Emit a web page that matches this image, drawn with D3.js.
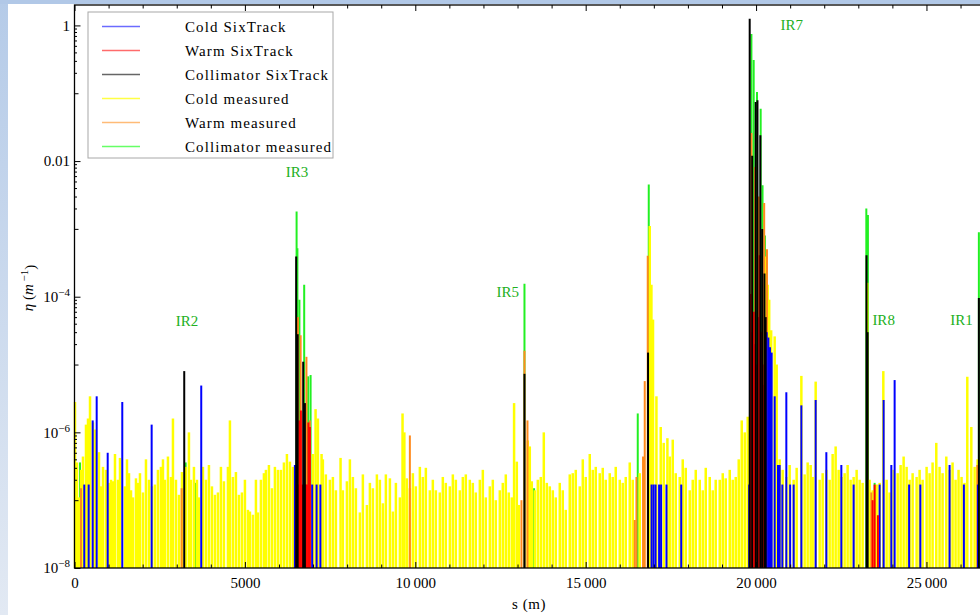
<!DOCTYPE html>
<html><head><meta charset="utf-8">
<script src="https://cdn.jsdelivr.net/npm/d3@7"></script>
<style>body{margin:0;background:#fff}svg{display:block}</style>
</head><body>
<svg id="c" width="980" height="615"></svg>
<script>
// ---------- DATA: [s (m), eta (1/m)] ----------
const coldMeasured = [
[15,2.8e-6],[73,3.6e-7],[132,1.1e-7],[191,2.8e-7],[249,4.4e-7],[337,1.3e-6],[396,1.6e-6],[455,3.4e-6],[543,1.4e-6],[601,1.1e-6],
[719,5.1e-7],[777,1.6e-7],[836,3.1e-7],[924,2.8e-7],[1012,1.8e-7],[1071,2.0e-7],[1129,1.9e-7],[1188,4.8e-7],[1276,2.0e-7],[1335,4.2e-7],
[1481,1.6e-7],[1540,4.0e-7],[1599,2.5e-7],[1658,1.4e-7],[1716,1.1e-7],[1804,2.1e-7],[1862,1.8e-7],[1921,2.5e-7],[2009,1.3e-7],[2097,4.0e-7],
[2185,2.0e-7],[2273,1.6e-7],[2361,1.7e-7],[2449,2.8e-7],[2537,3.1e-7],[2596,4.0e-7],[2654,2.0e-7],[2742,4.4e-7],[2830,2.2e-7],[2889,1.6e-6],
[2977,2.0e-7],[3065,1.2e-7],[3153,2.6e-7],[3270,3.1e-7],[3358,1.0e-6],[3417,2.0e-7],[3505,3.1e-7],[3593,2.0e-7],[3652,1.1e-7],[3769,3.1e-7],
[3857,2.0e-7],[3945,3.3e-7],[4033,1.6e-7],[4121,1.2e-7],[4209,1.3e-7],[4297,3.1e-7],[4385,1.9e-7],[4502,3.1e-7],[4561,1.5e-6],[4649,2.2e-7],
[4737,2.6e-7],[4825,1.2e-7],[4913,1.3e-7],[5001,2.0e-7],[5089,7.2e-8],[5148,6.8e-8],[5236,6.1e-8],[5324,2.0e-7],[5382,6.6e-8],[5470,2.0e-7],
[5558,2.5e-7],[5617,2.8e-7],[5705,3.3e-7],[5793,1.5e-7],[5881,3.1e-7],[5969,2.8e-7],[6057,2.8e-7],[6145,3.6e-7],[6233,4.8e-7],[6321,3.7e-7],
[6409,3.1e-7],[6995,4.8e-7],[7074,2.2e-6],[7142,1.6e-6],[7250,4.8e-7],[7288,4.0e-7],[7376,2.4e-7],[7494,2.0e-7],[7582,2.2e-7],[7670,1.4e-7],
[7807,4.2e-7],[7875,1.4e-7],[7993,1.9e-7],[8081,4.0e-7],[8169,2.2e-7],[8257,1.5e-7],[8374,6.6e-8],[8462,2.4e-7],[8580,8.5e-8],[8668,1.8e-7],
[8756,1.5e-7],[8873,2.4e-7],[8961,2.0e-7],[9049,9.0e-8],[9137,2.4e-7],[9255,2.1e-7],[9343,6.8e-8],[9431,1.8e-7],[9548,1.1e-7],[9626,1.9e-6],
[9679,1.0e-6],[9752,2.1e-7],[9841,1.5e-7],[9929,2.5e-7],[10016,1.6e-7],[10134,3.1e-7],[10222,2.2e-7],[10310,3.0e-7],[10427,1.4e-7],[10515,2.0e-7],
[10603,1.4e-7],[10720,1.3e-7],[10808,2.2e-7],[10896,1.8e-7],[11014,1.6e-7],[11102,2.4e-7],[11190,2.0e-7],[11307,1.4e-7],[11395,2.2e-7],[11483,2.4e-7],
[11600,2.0e-7],[11688,1.8e-7],[11776,1.3e-7],[11894,2.0e-7],[11982,2.8e-7],[12070,1.1e-7],[12187,1.6e-7],[12275,2.0e-7],[12363,1.0e-7],[12480,1.4e-7],
[12568,1.8e-7],[12656,2.4e-7],[12744,1.3e-7],[12832,1.1e-7],[12899,2.7e-6],[12979,3.7e-7],[13038,8.5e-8],[13301,7.6e-7],[13360,6.2e-7],[13419,1.9e-7],
[13507,1.4e-7],[13595,2.0e-7],[13683,2.2e-7],[13771,1.0e-6],[13859,1.8e-7],[13947,1.6e-7],[14035,1.4e-7],[14123,1.1e-7],[14240,1.8e-7],[14328,1.4e-7],
[14416,7.2e-8],[14533,2.4e-7],[14621,2.5e-7],[14709,2.8e-7],[14827,1.6e-7],[14915,4.0e-7],[15003,2.2e-7],[15120,4.8e-7],[15208,2.8e-7],[15296,3.1e-7],
[15413,2.5e-7],[15501,3.0e-7],[15589,2.0e-7],[15706,2.5e-7],[15794,2.2e-7],[15882,3.1e-7],[16000,2.0e-7],[16088,1.8e-7],[16176,2.2e-7],[16293,3.6e-7],
[16381,2.0e-7],[16586,2.5e-7],[16880,1.1e-3],[16929,1.5e-4],[16976,4.6e-5],[17076,3.4e-6],[17202,1.2e-6],[17290,7.0e-7],[17398,8.2e-7],[17467,4.4e-7],
[17555,7.8e-7],[17643,2.5e-7],[17760,2.2e-7],[17848,4.0e-7],[17936,3.0e-7],[18054,1.4e-7],[18142,2.0e-7],[18230,2.8e-7],[18347,2.0e-7],[18435,1.4e-7],
[18523,3.0e-7],[18640,2.2e-7],[18728,1.4e-7],[18816,2.0e-7],[18934,2.0e-7],[19022,2.5e-7],[19110,2.1e-7],[19227,2.8e-7],[19315,2.0e-7],[19403,2.2e-7],
[19491,4.0e-7],[19579,1.5e-6],[19667,1.0e-6],[19755,1.7e-6],[20288,3.9e-4],[20340,1.5e-4],[20385,9.0e-5],[20443,3.2e-5],[20546,2.6e-5],[20605,1.0e-5],
[20692,4.0e-7],[20780,2.8e-7],[20888,2.2e-7],[20985,3.3e-7],[21103,2.0e-7],[21191,3.0e-7],[21329,6.8e-6],[21426,2.4e-7],[21514,3.6e-7],[21602,3.3e-7],
[21661,2.2e-7],[21749,5.6e-6],[21866,2.0e-7],[21954,2.5e-7],[22062,2.8e-7],[22159,2.0e-7],[22247,4.8e-7],[22335,6.2e-7],[22423,2.8e-7],[22511,2.2e-7],
[22599,2.5e-7],[22687,3.3e-7],[22775,2.0e-7],[22863,2.2e-7],[22951,2.8e-7],[23039,2.0e-7],[23127,1.8e-7],[23260,1.6e-4],[23332,2.0e-7],[23420,1.4e-7],
[23538,1.7e-7],[23626,1.8e-7],[23734,8.0e-6],[23831,2.0e-7],[23919,1.3e-7],[24037,2.8e-7],[24155,2.5e-7],[24242,3.3e-7],[24330,4.4e-7],[24418,3.1e-7],
[24506,2.0e-7],[24594,2.5e-7],[24711,2.2e-7],[24799,2.8e-7],[24887,2.0e-7],[25004,3.1e-7],[25092,2.5e-7],[25180,3.6e-7],[25288,7.0e-7],[25385,3.1e-7],
[25473,2.5e-7],[25582,4.4e-7],[25678,2.8e-7],[25766,3.6e-7],[25854,2.0e-7],[25942,2.8e-7],[26030,2.2e-7],[26118,1.8e-7],[26198,6.6e-6],[26316,1.2e-6],
[26413,3.1e-7],[26501,4.0e-7]
];
const warmMeasured = [
[191,1.5e-7],[3144,1.5e-7],[6556,5.0e-5],[6636,2.7e-5],[6806,1.3e-5],[6907,1.5e-6],[9841,9.0e-7],[13116,1.0e-7],[13204,1.6e-5],[13292,1.5e-6],
[16440,5.1e-8],[16490,2.2e-7],[16683,4.4e-7],[16733,5.7e-6],[16821,4.0e-4],[19863,2.6e-2],[19965,8.2e-3],[20080,3.0e-3],[20238,2.4e-3],[20320,5.0e-4],
[23382,1.3e-7],[26491,3.3e-7]
];
const collimatorMeasured = [
[161,3.6e-7],[3262,3.6e-7],[3564,1.8e-7],[6517,1.8e-3],[6541,5.2e-4],[6600,9.0e-5],[6740,1.5e-4],[6857,6.7e-6],[6928,7.0e-6],[13204,1.55e-4],
[13486,1.5e-7],[16528,1.9e-6],[16851,4.5e-3],[19863,0.75],[19930,0.31],[20027,0.104],[20135,0.059],[20190,4.4e-3],[20260,8.0e-4],[23235,2.0e-3],
[23282,1.6e-3],[23479,1.8e-7],[26538,8.9e-4]
];
const coldSixTrack = [
[287,1.7e-7],[416,1.7e-7],[534,1.5e-6],[651,3.4e-6],[974,5.0e-7],[1402,2.8e-6],[2264,1.3e-6],[3719,4.9e-6],
[6467,3.3e-7],[6975,1.7e-7],[7104,1.7e-7],[7215,1.7e-7],
[16933,1.7e-7],[16992,1.7e-7],[17051,1.7e-7],[17154,1.7e-7],[17213,1.7e-7],[17371,1.7e-7],[17804,1.7e-7],
[19798,1.7e-7],[20311,3.0e-5],[20361,2.5e-5],[20408,1.8e-5],[20457,1.5e-5],[20546,3.4e-6],[20643,3.3e-7],[20692,3.3e-7],[20771,1.7e-7],[20888,3.9e-6],
[21000,1.7e-7],[21103,1.7e-7],[21329,2.5e-6],[21749,3.0e-6],[22062,5.1e-7],[22502,3.3e-7],[22863,1.7e-7],
[23626,1.7e-7],[23743,3.0e-6],[23969,3.3e-7],[24066,5.9e-6],[24491,1.7e-7],[24820,1.7e-7],[25678,3.3e-7],[26098,1.7e-7],[26510,1.7e-7]
];
const warmSixTrack = [
[6511,1.7e-7],[6555,1.7e-7],[6599,1.5e-6],[6643,2.1e-6],[6687,1.7e-7],[6731,2.1e-6],[6775,1.7e-7],[6819,1.7e-7],[6863,1.4e-6],[6907,1.2e-6],
[19841,1.1e-4],[19886,3.0e-5],[19930,6.0e-5],[19974,2.0e-5],[20018,1.0e-5],[20062,5.0e-5],[20106,4.1e-4],[20150,3.0e-5],[20194,1.0e-5],[20238,5.0e-6],
[23420,1.0e-7],[23479,1.7e-7],[23576,6.0e-8]
];
const collimatorSixTrack = [
[3220,8.0e-6],[6505,3.9e-4],[6549,2.8e-5],[6711,1.1e-5],[6761,2.7e-6],[13204,7.3e-6],[16830,1.5e-5],
[19813,1.25],[19886,1.2e-2],[19989,0.074],[20041,0.079],[20126,0.024],[20179,1.0e-3],[20246,2.2e-4],[20282,5.0e-5],
[23241,4.1e-4],[23273,3.0e-5],[26538,9.6e-5]
];
const xTickValues = [0,5000,10000,15000,20000,25000];
const xTickLabels = ["0","5000","10\u2009000","15\u2009000","20\u2009000","25\u2009000"];
const yTickValues = [1e-8,1e-6,1e-4,1e-2,1];
const yTickBase = ["10","10","10","0.01","1"];
const yTickExp = ["\u22128","\u22126","\u22124","",""];
const irLabels = ["IR2","IR3","IR5","IR7","IR8","IR1"];
const irLabelS = [3300,6526,12715,21045,23743,26030];
const irLabelEta = [3.7e-5,5.8e-3,1.0e-4,0.86,3.8e-5,3.8e-5];
const seriesNames = ["Cold SixTrack","Warm SixTrack","Collimator SixTrack","Cold measured","Warm measured","Collimator measured"];
const seriesColors = ["#0000ff","#ff0000","#000000","#ffff00","#ff8a1c","#22f022"];
const legendColors = ["#6b6bff","#ff6b6b","#666666","#ffff44","#ffbb77","#66ff66"];

// ---------- CHART ----------
const svg = d3.select('#c');
const FONT = "'Liberation Serif','Times New Roman',serif";
const defs = svg.append('defs');
const lg = defs.append('linearGradient').attr('id','lg').attr('x1',0).attr('y1',0).attr('x2',0).attr('y2',1);
lg.append('stop').attr('offset',0).attr('stop-color','#b5cbe8');
lg.append('stop').attr('offset',1).attr('stop-color','#e2e9f3');
svg.append('rect').attr('x',0).attr('y',0).attr('width',8).attr('height',615).attr('fill','url(#lg)');
svg.append('rect').attr('x',0).attr('y',0).attr('width',980).attr('height',4).attr('fill','#b1c8e7');

const x = d3.scaleLinear().domain([0,26659]).range([74.5,983]);
const y = d3.scaleLog().domain([1e-8,2]).range([568,5]);

function bars(data,color,w){
  svg.append('g').selectAll('line').data(data).join('line')
    .attr('x1',d=>x(d[0])).attr('x2',d=>x(d[0]))
    .attr('y1',y(1e-8)).attr('y2',d=>y(d[1]))
    .attr('stroke',color).attr('stroke-width',w);
}
bars(collimatorMeasured,seriesColors[5],2);
bars(coldMeasured,seriesColors[3],2.5);
bars(warmMeasured,seriesColors[4],2);
bars(coldSixTrack,seriesColors[0],2);
bars(warmSixTrack,seriesColors[1],2);
bars(collimatorSixTrack,seriesColors[2],2);

// frame
svg.append('rect').attr('x',74.5).attr('y',5).attr('width',983-74.5).attr('height',563)
  .attr('fill','none').attr('stroke','#000').attr('stroke-width',1.3);

// x axes
const xMinor = d3.range(0,26659,1000).filter(v=>v%5000!==0);
const gxb = svg.append('g').attr('transform','translate(0,568)')
  .call(d3.axisBottom(x).tickValues(xTickValues).tickSize(-6).tickSizeOuter(0).tickPadding(9).tickFormat((d,i)=>xTickLabels[i]));
svg.append('g').attr('transform','translate(0,568)')
  .call(d3.axisBottom(x).tickValues(xMinor).tickSize(-3.5).tickSizeOuter(0).tickFormat(''));
svg.append('g').attr('transform','translate(0,5)')
  .call(d3.axisTop(x).tickValues(xTickValues).tickSize(-6).tickSizeOuter(0).tickFormat(''));
svg.append('g').attr('transform','translate(0,5)')
  .call(d3.axisTop(x).tickValues(xMinor).tickSize(-3.5).tickSizeOuter(0).tickFormat(''));

// y axes
const yMid = [1e-7,1e-5,1e-3,1e-1];
const yMinor = [];
yTickValues.forEach(v=>{ for(let k=2;k<=9;k++){ const t=v*k/10; if(t>1e-8) yMinor.push(t);} });
const gyl = svg.append('g').attr('transform','translate(74.5,0)')
  .call(d3.axisLeft(y).tickValues(yTickValues).tickSize(-6).tickSizeOuter(0).tickPadding(5).tickFormat(''));
svg.append('g').attr('transform','translate(74.5,0)')
  .call(d3.axisLeft(y).tickValues(yMid).tickSize(-4).tickSizeOuter(0).tickFormat(''));
svg.append('g').attr('transform','translate(74.5,0)')
  .call(d3.axisLeft(y).tickValues(yMinor).tickSize(-2.5).tickSizeOuter(0).tickFormat(''));

svg.selectAll('.domain').remove();
svg.selectAll('.tick line').attr('stroke','#000').attr('stroke-width',1);

gxb.selectAll('.tick text').attr('font-family',FONT).attr('font-size',15).attr('fill','#000');
gyl.selectAll('.tick text').each(function(d,i){
  const t = d3.select(this).attr('font-family',FONT).attr('font-size',15).attr('fill','#000').attr('x',-4.5);
  t.text(null);
  t.append('tspan').text(yTickBase[i]);
  if(yTickExp[i]) t.append('tspan').attr('dy','-0.55em').attr('font-size',11).text(yTickExp[i]);
});

// IR labels
svg.append('g').selectAll('text').data(irLabels).join('text')
  .attr('x',(d,i)=>x(irLabelS[i])).attr('y',(d,i)=>y(irLabelEta[i]))
  .attr('text-anchor','middle').attr('font-family',FONT).attr('font-size',15)
  .attr('fill','#22b022').text(d=>d);

// axis titles
svg.append('text').attr('x',529).attr('y',609).attr('text-anchor','middle')
  .attr('font-family',FONT).attr('font-size',15).attr('letter-spacing',0.6).text('s (m)');
const yl = svg.append('text').attr('transform','translate(33,288) rotate(-90)').attr('text-anchor','middle')
  .attr('font-family',FONT).attr('font-size',15);
yl.append('tspan').attr('font-style','italic').text('\u03b7');
yl.append('tspan').text(' (');
yl.append('tspan').attr('font-style','italic').text('m');
yl.append('tspan').attr('dy','-0.5em').attr('font-size',11).text(' \u22121');
yl.append('tspan').attr('dy','0.5em').text(')');

// legend
const leg = svg.append('g');
leg.append('rect').attr('x',88).attr('y',12).attr('width',245).attr('height',146)
  .attr('fill','#fff').attr('stroke','#a8a8a8').attr('stroke-width',1);
const li = leg.selectAll('g').data(seriesNames).join('g')
  .attr('transform',(d,i)=>`translate(0,${26.5+i*24})`);
li.append('line').attr('x1',102).attr('x2',140).attr('y1',0).attr('y2',0)
  .attr('stroke',(d,i)=>legendColors[i]).attr('stroke-width',1.5);
li.append('text').attr('x',185).attr('y',5).attr('font-family',FONT).attr('font-size',15)
  .attr('letter-spacing',1.1).text(d=>d);
</script>
</body></html>
